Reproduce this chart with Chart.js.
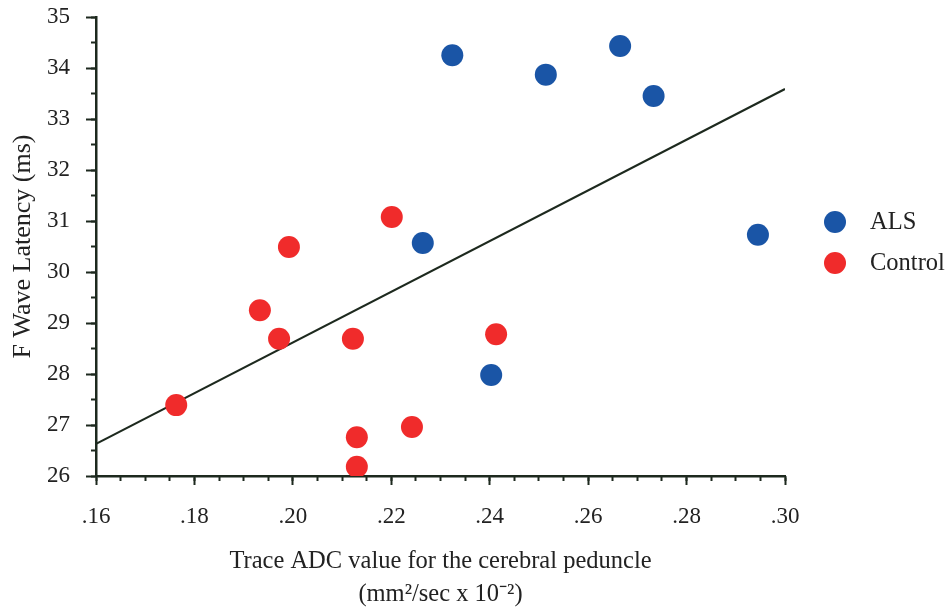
<!DOCTYPE html>
<html>
<head>
<meta charset="utf-8">
<script src="https://cdn.jsdelivr.net/npm/chart.js@4/dist/chart.umd.min.js"></script>
<style>
  html, body { margin: 0; padding: 0; background: #ffffff; }
  #wrap { width: 949px; height: 611px; }
</style>
</head>
<body>
<div id="wrap"><canvas id="c" width="949" height="611"></canvas></div>
<script>
// ---- data ----
const seriesNames = ['ALS', 'Control'];
const alsX = [0.2324, 0.2514, 0.2665, 0.2733, 0.2945, 0.2264, 0.2403];
const alsY = [34.25, 33.87, 34.43, 33.45, 30.73, 30.57, 27.98];
const controlX = [0.1763, 0.1933, 0.1972, 0.1992, 0.2122, 0.2130, 0.2130, 0.2201, 0.2242, 0.2413];
const controlY = [27.39, 29.25, 28.69, 30.49, 28.69, 26.76, 26.18, 31.08, 26.96, 28.78];
const fitX = [0.16, 0.30];
const fitY = [26.63, 33.59];
const xTickStep = 0.02;
const xMinorStep = 0.005;
const yTickStep = 1;
const yMinorStep = 0.5;
const xRange = [0.16, 0.30];
const yRange = [26, 35];
const xTitle = ['Trace ADC value for the cerebral peduncle', '(mm\u00B2/sec x 10\u207B\u00B2)'];
const yTitle = 'F Wave Latency (ms)';

const BLUE = '#1a55a6';
const RED = '#f02b2b';
const AXIS = '#1d291e';
const TEXT = '#222222';
const FONT = "'Liberation Serif', 'Times New Roman', serif";

const toPts = (xs, ys) => xs.map((x, i) => ({ x: x, y: ys[i] }));

const legendPlugin = {
  id: 'sideLegend',
  afterDraw(chart) {
    const ctx = chart.ctx;
    const items = chart.data.datasets.filter(d => seriesNames.includes(d.label));
    ctx.save();
    items.forEach((d, i) => {
      const cy = 222 + i * 41;
      ctx.beginPath();
      ctx.arc(835, cy, 11, 0, Math.PI * 2);
      ctx.fillStyle = d.backgroundColor;
      ctx.fill();
      ctx.fillStyle = TEXT;
      ctx.font = '24.5px ' + FONT;
      ctx.textBaseline = 'middle';
      ctx.textAlign = 'left';
      ctx.fillText(d.label, 870, cy + 1);
    });
    ctx.restore();
  }
};

new Chart(document.getElementById('c'), {
  type: 'scatter',
  data: {
    datasets: [
      {
        label: seriesNames[0],
        data: toPts(alsX, alsY),
        backgroundColor: BLUE,
        borderColor: BLUE,
        pointRadius: 11,
        pointBorderWidth: 0,
        order: 1
      },
      {
        label: seriesNames[1],
        data: toPts(controlX, controlY),
        backgroundColor: RED,
        borderColor: RED,
        pointRadius: 11,
        pointBorderWidth: 0,
        order: 1
      },
      {
        type: 'line',
        label: '',
        data: toPts(fitX, fitY),
        borderColor: AXIS,
        borderWidth: 2.2,
        pointRadius: 0,
        fill: false,
        order: 3
      }
    ]
  },
  options: {
    responsive: false,
    animation: false,
    devicePixelRatio: 1,
    layout: { padding: { left: 0, right: 164, top: 17, bottom: 0 } },
    plugins: {
      legend: { display: false },
      tooltip: { enabled: false }
    },
    scales: {
      x: {
        type: 'linear',
        position: 'bottom',
        min: xRange[0],
        max: xRange[1],
        afterFit(scale) { scale.height = 135; scale.paddingLeft = 0; scale.paddingRight = 0; },
        border: { display: true, color: AXIS, width: 2.5 },
        grid: { drawOnChartArea: false, drawTicks: true, tickLength: 9, tickWidth: 2, tickColor: AXIS },
        ticks: {
          stepSize: xTickStep,
          padding: 18,
          color: TEXT,
          font: { family: FONT, size: 23 },
          maxRotation: 0,
          autoSkip: false,
          callback: v => v.toFixed(2).replace(/^0/, '')
        },
        title: {
          display: true,
          text: xTitle,
          color: TEXT,
          font: { family: FONT, size: 24.5, lineHeight: 1.35 },
          padding: { top: 0, bottom: 0 }
        }
      },
      y: {
        type: 'linear',
        position: 'left',
        min: yRange[0],
        max: yRange[1],
        afterFit(scale) { scale.width = 96; scale.paddingTop = 0; scale.paddingBottom = 0; },
        border: { display: true, color: AXIS, width: 2.5 },
        grid: { drawOnChartArea: false, drawTicks: true, tickLength: 10, tickWidth: 2, tickColor: AXIS },
        ticks: {
          stepSize: yTickStep,
          padding: 16,
          color: TEXT,
          font: { family: FONT, size: 23 },
          autoSkip: false,
          callback: v => String(v)
        },
        title: {
          display: true,
          text: yTitle,
          color: TEXT,
          font: { family: FONT, size: 26, lineHeight: 1.2 },
          padding: { top: 8, bottom: 0 }
        }
      },
      xMinor: {
        type: 'linear',
        axis: 'x',
        position: { y: yRange[0] },
        min: xRange[0],
        max: xRange[1],
        border: { display: false },
        grid: { drawOnChartArea: false, drawTicks: true, tickLength: 5, tickWidth: 2, tickColor: AXIS },
        ticks: { stepSize: xMinorStep, display: false }
      },
      yMinor: {
        type: 'linear',
        axis: 'y',
        position: { x: xRange[0] },
        min: yRange[0],
        max: yRange[1],
        border: { display: false },
        grid: { drawOnChartArea: false, drawTicks: true, tickLength: 5, tickWidth: 2, tickColor: AXIS },
        ticks: { stepSize: yMinorStep, display: false }
      }
    }
  },
  plugins: [legendPlugin]
});
</script>
</body>
</html>
